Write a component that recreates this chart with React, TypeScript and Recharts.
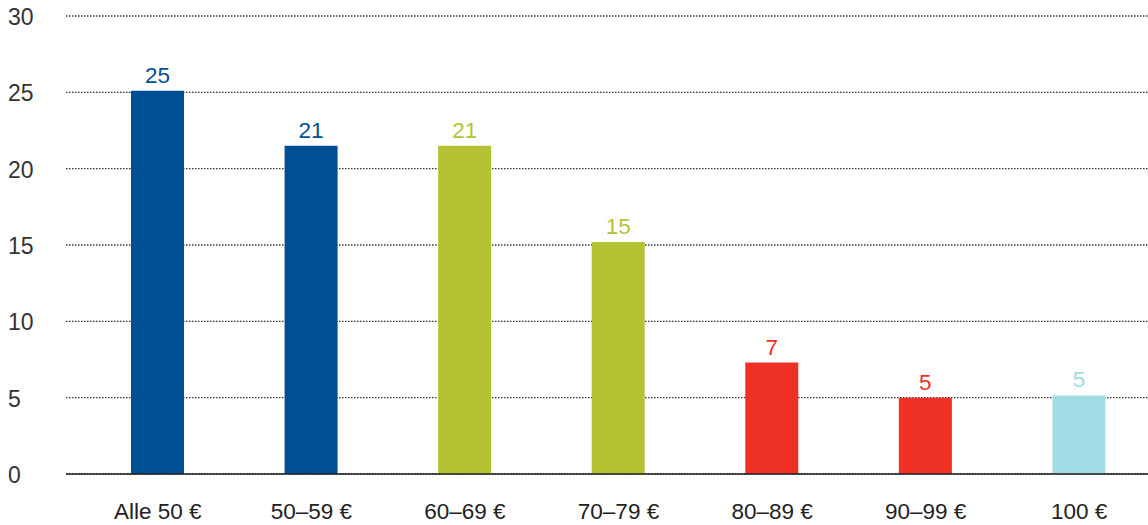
import { BarChart, Bar, XAxis, YAxis, CartesianGrid, LabelList, Cell } from "recharts";

const categories = ["Alle 50 €", "50–59 €", "60–69 €", "70–79 €", "80–89 €", "90–99 €", "100 €"];
const values = [25.1, 21.5, 21.5, 15.2, 7.3, 5.0, 5.15];
const valueLabels = ["25", "21", "21", "15", "7", "5", "5"];
const barColors = ["#004f95", "#004f95", "#b5c234", "#b5c234", "#ee3124", "#ee3124", "#a3dbe4"];
const yTicks = [0, 5, 10, 15, 20, 25, 30];

const data = categories.map((name, i) => ({
  name,
  value: values[i],
  label: valueLabels[i],
  color: barColors[i],
}));

const FONT = "'Liberation Sans', Arial, sans-serif";

function YTick(props: any) {
  const { y, payload } = props;
  return (
    <text x={8} y={y + 9} textAnchor="start" fontSize={23} fill="#333" fontFamily={FONT}>
      {payload.value}
    </text>
  );
}

function XTick(props: any) {
  const { x, y, payload } = props;
  return (
    <text x={x} y={y + 37} textAnchor="middle" fontSize={22.5} fill="#222" fontFamily={FONT}>
      {payload.value}
    </text>
  );
}

function BarLabel(props: any) {
  const { x, y, width, index } = props;
  return (
    <text
      x={x + width / 2}
      y={y - 8}
      textAnchor="middle"
      fontSize={22.5}
      fill={barColors[index]}
      fontFamily={FONT}
    >
      {valueLabels[index]}
    </text>
  );
}

export default function App() {
  return (
    <div style={{ position: "absolute", left: 0, top: 0, width: 1148, height: 525, overflow: "hidden", background: "#fff" }}>
      <BarChart
        width={1156}
        height={525}
        data={data}
        margin={{ top: 16, right: 0, bottom: 0, left: 0 }}
      >
        <CartesianGrid
          vertical={false}
          stroke="#333"
          strokeWidth={1.3}
          strokeDasharray="1.5 1.5"
        />
        <XAxis
          dataKey="name"
          padding={{ left: 15, right: 0 }}
          axisLine={{ stroke: "#222", strokeWidth: 1.5 }}
          tickLine={false}
          tick={<XTick />}
          interval={0}
          height={51}
        />
        <YAxis
          domain={[0, 30]}
          ticks={yTicks}
          width={66}
          axisLine={false}
          tickLine={false}
          tick={<YTick />}
          interval={0}
        />
        <Bar dataKey="value" barSize={53} isAnimationActive={false}>
          {data.map((d, i) => (
            <Cell key={i} fill={d.color} />
          ))}
          <LabelList dataKey="label" content={<BarLabel />} />
        </Bar>
      </BarChart>
    </div>
  );
}
